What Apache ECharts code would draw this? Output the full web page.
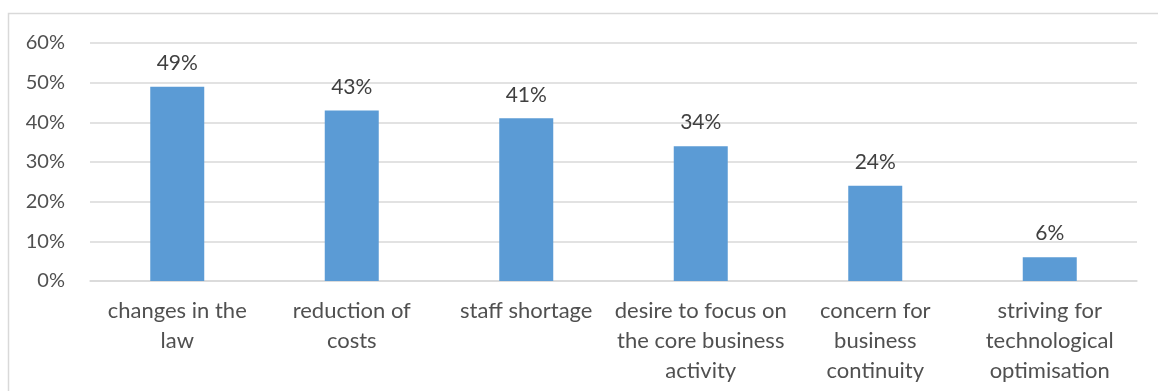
<!DOCTYPE html>
<html>
<head>
<meta charset="utf-8">
<script src="https://cdn.jsdelivr.net/npm/echarts@6/dist/echarts.min.js"></script>
<style>
  html, body { margin: 0; padding: 0; background: #ffffff; }
  #chart { width: 1158px; height: 391px; }
</style>
</head>
<body>
<div id="chart"></div>
<script>
// Reasons given, with line breaks as they wrap under the axis
const categories = [
  'changes in the\nlaw',
  'reduction of\ncosts',
  'staff shortage',
  'desire to focus on\nthe core business\nactivity',
  'concern for\nbusiness\ncontinuity',
  'striving for\ntechnological\noptimisation'
];
// Share of respondents, in percent
const shares = [49, 43, 41, 34, 24, 6];
// Value axis ticks
const yMin = 0;
const yMax = 60;
const yStep = 10;

const textColor = '#505050';
const gridColor = '#d9d9d9';
const barColor = '#5b9bd5';
const fontFamily = 'Lato, "Open Sans", sans-serif';

const chart = echarts.init(document.getElementById('chart'), null, { renderer: 'canvas' });
chart.setOption({
  backgroundColor: '#ffffff',
  animation: false,
  graphic: [{
    type: 'rect',
    shape: { x: 8.5, y: 13.5, width: 1200, height: 500 },
    style: { fill: 'none', stroke: gridColor, lineWidth: 1.5 },
    silent: true
  }],
  grid: { left: 90, right: 21, top: 43, bottom: 110, containLabel: false },
  xAxis: {
    type: 'category',
    data: categories,
    axisLine: { show: true, lineStyle: { color: gridColor, width: 1.5 } },
    axisTick: { show: false },
    axisLabel: {
      color: textColor,
      fontFamily: fontFamily,
      fontSize: 22,
      lineHeight: 30,
      margin: 15,
      interval: 0,
      align: 'center'
    }
  },
  yAxis: {
    type: 'value',
    min: yMin,
    max: yMax,
    interval: yStep,
    axisLine: { show: false },
    axisTick: { show: false },
    splitLine: { lineStyle: { color: gridColor, width: 1.5 } },
    axisLabel: {
      color: textColor,
      fontFamily: fontFamily,
      fontSize: 20,
      margin: 25,
      formatter: v => v + '%'
    }
  },
  series: [{
    type: 'bar',
    data: shares,
    barWidth: 54,
    itemStyle: { color: barColor },
    label: {
      show: true,
      position: 'top',
      distance: 13,
      color: '#404040',
      fontFamily: fontFamily,
      fontSize: 21,
      formatter: p => p.value + '%'
    }
  }]
});
</script>
</body>
</html>
